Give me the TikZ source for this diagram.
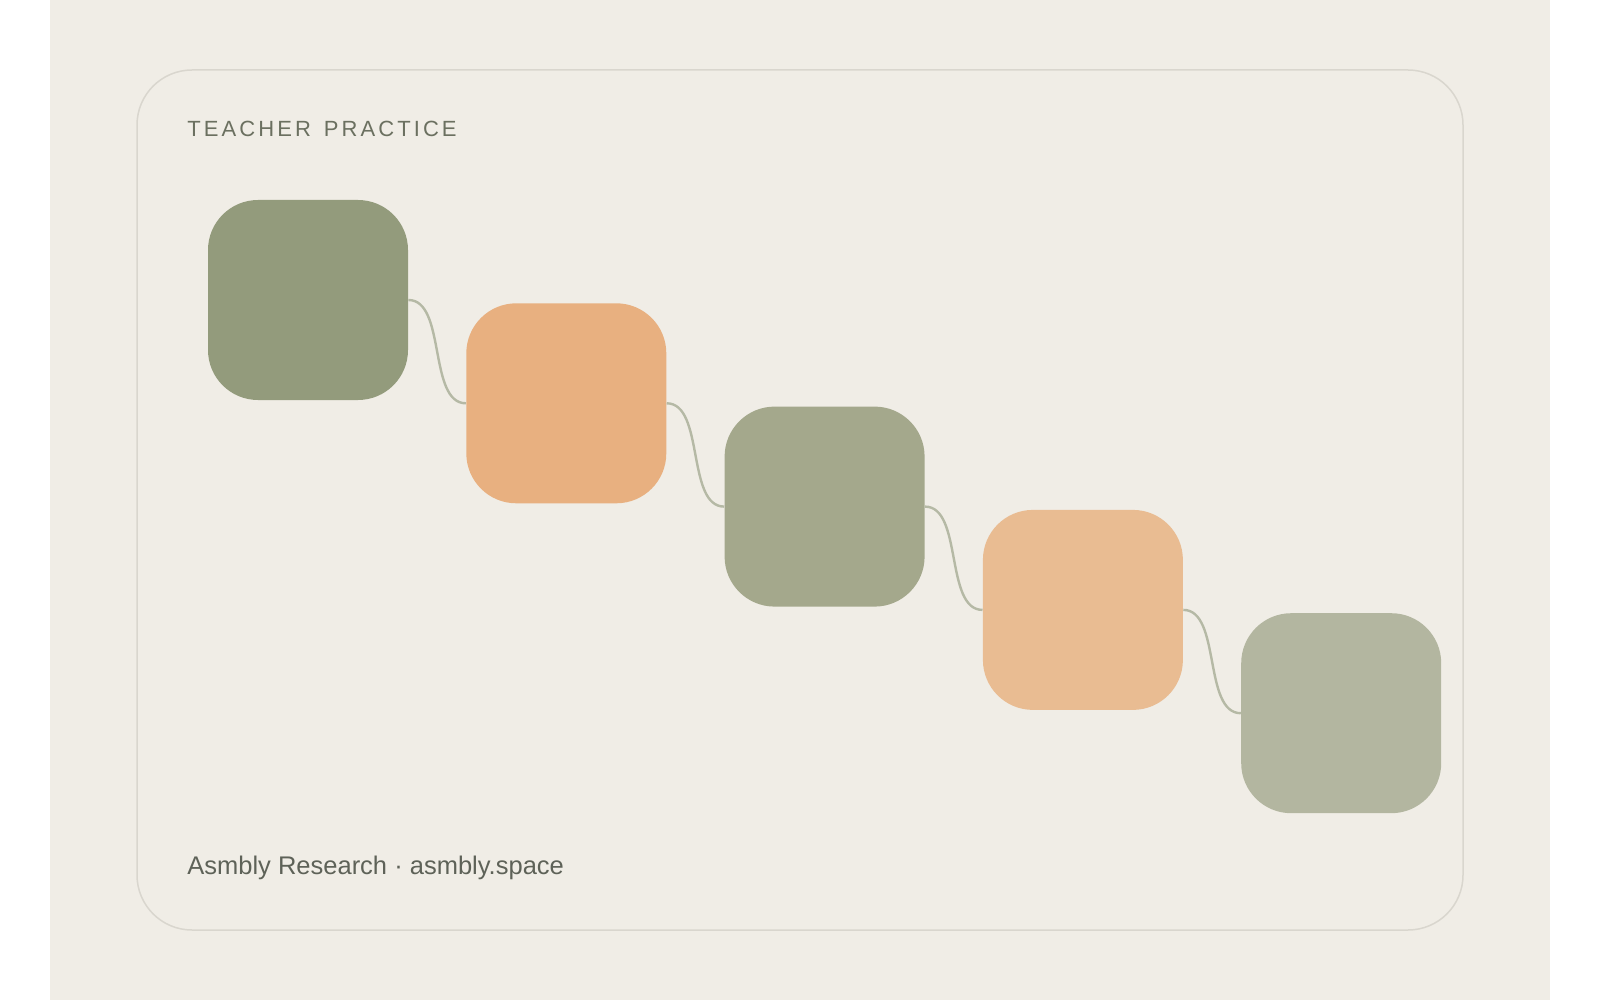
\documentclass[tikz,border=0pt]{standalone}
\usepackage{fontspec}
\setmainfont{Liberation Sans}
\newfontfamily\titlefont[LetterSpace=14,WordSpace=1.4]{Liberation Sans}
\definecolor{pagebg}{RGB}{240,237,230}
\definecolor{framecol}{RGB}{217,214,206}
\definecolor{titlecol}{RGB}{107,112,96}
\definecolor{footcol}{RGB}{94,98,88}
\definecolor{sageA}{RGB}{147,155,124}
\definecolor{sageB}{RGB}{164,168,140}
\definecolor{sageC}{RGB}{179,182,160}
\definecolor{orangeA}{RGB}{232,176,128}
\definecolor{orangeB}{RGB}{233,188,146}
\definecolor{linkcol}{RGB}{181,185,165}
\tikzset{
  card/.style={rectangle, rounded corners=25pt, minimum width=100pt, minimum height=100pt, inner sep=0pt, draw=none},
  link/.style={draw=linkcol, line width=1.2pt},
}
\begin{document}
\begin{tikzpicture}[x=0.5pt, y=-0.5pt]
\useasboundingbox (0,0) rectangle (1600,1000);
\fill[white] (0,0) rectangle (1600,1000);
\fill[pagebg] (50,0) rectangle (1550,1000);
\draw[framecol, line width=0.75pt, rounded corners=27.5pt] (137,70) rectangle (1463,930);
\node[anchor=base west, text=titlecol, inner sep=0pt, font=\titlefont\fontsize{11}{13}\selectfont] (title) at (187,137) {TEACHER PRACTICE};
\node[anchor=base west, text=footcol, inner sep=0pt, font=\fontsize{12.75}{15}\selectfont] (foot) at (187,874) {Asmbly Research · asmbly.space};
\node[card, fill=sageA] (b1) at (308,300) {};
\node[card, fill=orangeA] (b2) at (566.3,403.3) {};
\node[card, fill=sageB] (b3) at (824.6,506.6) {};
\node[card, fill=orangeB] (b4) at (1082.9,609.9) {};
\node[card, fill=sageC] (b5) at (1341.2,713.2) {};
\draw[link] (b1.east) .. controls +(38,0) and +(-38,0) .. (b2.west);
\draw[link] (b2.east) .. controls +(38,0) and +(-38,0) .. (b3.west);
\draw[link] (b3.east) .. controls +(38,0) and +(-38,0) .. (b4.west);
\draw[link] (b4.east) .. controls +(38,0) and +(-38,0) .. (b5.west);
\end{tikzpicture}
\end{document}
